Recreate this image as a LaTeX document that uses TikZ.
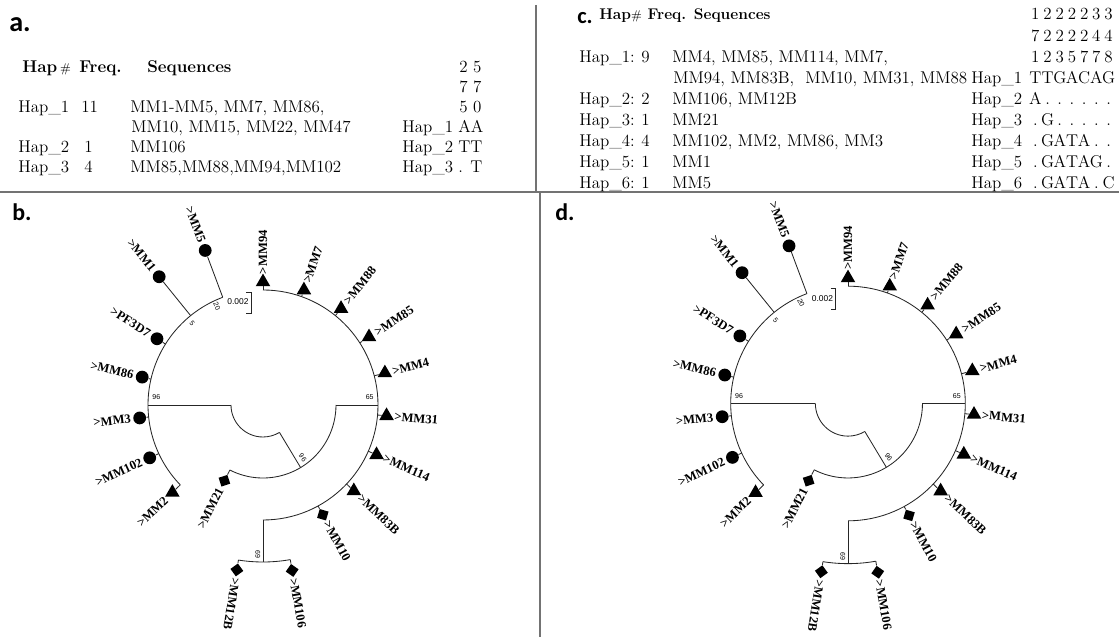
\documentclass[tikz,border=0pt]{standalone}
\usepackage{fontspec}
\usetikzlibrary{shapes.geometric}

\newfontfamily\taxfont{Liberation Serif}
\newfontfamily\supfont{Liberation Sans}
\newfontfamily\panelfont{Carlito}

% one fixed-width cell per site of the alignment
\newlength{\seqcw}
\setlength{\seqcw}{0.305cm}
\newcommand{\seqrow}[7]{\makebox[\seqcw]{#1}\makebox[\seqcw]{#2}\makebox[\seqcw]{#3}\makebox[\seqcw]{#4}\makebox[\seqcw]{#5}\makebox[\seqcw]{#6}\makebox[\seqcw]{#7}}
\newcommand{\thinhash}{{\normalfont\fontsize{9}{10}\selectfont\#}}

\begin{document}
\begin{tikzpicture}[
    x=0.025cm, y=0.025cm,
    font=\fontsize{12.1}{14}\selectfont,
    txt/.style={anchor=base west, inner sep=0pt},
    head/.style={txt, font=\fontsize{12.1}{14}\selectfont\bfseries},
    panel/.style={anchor=base west, inner sep=0pt, font=\panelfont\bfseries\fontsize{#1}{#1}\selectfont},
    divider/.style={line width=1.3pt, black!55},
    branch/.style={line width=0.6pt, black!85},
    leafdot/.style={circle, fill=black, inner sep=0pt, minimum size=0.32cm},
    leaftri/.style={regular polygon, regular polygon sides=3, fill=black, inner sep=0pt, minimum size=0.42cm},
    leafsq/.style={rectangle, fill=black, inner sep=0pt, minimum size=0.23cm, rotate=#1+45},
    taxon/.style={inner sep=0.5pt, font=\taxfont\bfseries\fontsize{9}{10}\selectfont},
    boot/.style={inner sep=0pt, font=\supfont\fontsize{5}{6}\selectfont}
]
    \useasboundingbox (0,0) rectangle (1119,637);

    % Panel dividers
    \draw[divider] (0,445) -- (1119,445);
    \draw[divider] (536,632) -- (536,445);
    \draw[divider] (540,445) -- (540,0);

    % Panel a: haplotype table
    \node[panel=20] (a-tag) at (9,605) {a.};
    \node[head] (a-hap) at (22,564) {Hap\,\thinhash};
    \node[head] (a-freq) at (79,564) {Freq.};
    \node[head] (a-seqs) at (147,564) {Sequences};
    \node[txt] (a-pos1) at (459,564) {2 5};
    \node[txt] (a-pos2) at (459,544) {7 7};
    \node[txt] (a-pos3) at (459,524) {5 0};
    \node[txt] (a-h1) at (18,524) {Hap\_1};
    \node[txt] (a-f1) at (81,524) {11};
    \node[txt] (a-s1) at (130,524) {MM1-MM5, MM7, MM86,};
    \node[txt] (a-s1b) at (131,504) {MM10, MM15, MM22, MM47};
    \node[txt] (a-r1) at (402,504) {Hap\_1};
    \node[txt] (a-q1) at (458,504) {AA};
    \node[txt] (a-h2) at (18,484) {Hap\_2};
    \node[txt] (a-f2) at (84,484) {1};
    \node[txt] (a-s2) at (130,484) {MM106};
    \node[txt] (a-r2) at (402,484) {Hap\_2};
    \node[txt] (a-q2) at (458,484) {TT};
    \node[txt] (a-h3) at (18,464) {Hap\_3};
    \node[txt] (a-f3) at (84,464) {4};
    \node[txt] (a-s3) at (130,464) {MM85,MM88,MM94,MM102};
    \node[txt] (a-r3) at (402,464) {Hap\_3};
    \node[txt] (a-q3) at (458,464) {. T};

    % Panel c: haplotype table
    \node[panel=16] (c-tag) at (577,613) {c.};
    \node[head, font=\fontsize{11}{13}\selectfont\bfseries] (c-head) at (599,617) {Hap\thinhash{} Freq. Sequences};
    \node[txt] (c-pos1) at (1029,617) {\seqrow 1222233};
    \node[txt] (c-pos2) at (1029,595.9) {\seqrow 7222244};
    \node[txt] (c-pos3) at (1029,574.8) {\seqrow 1235778};
    \node[txt] (c-h1) at (579,574.8) {Hap\_1:};
    \node[txt] (c-f1) at (641,574.8) {9};
    \node[txt] (c-s1) at (672,574.8) {MM4, MM85, MM114, MM7,};
    \node[txt] (c-s1b) at (673,553.7) {MM94, MM83B,\ \ MM10, MM31, MM88};
    \node[txt] (c-r1) at (971,553.7) {Hap\_1};
    \node[txt] (c-q1) at (1029,553.7) {\seqrow TTGACAG};
    \node[txt] (c-h2) at (579,532.6) {Hap\_2:};
    \node[txt] (c-f2) at (641,532.6) {2};
    \node[txt] (c-s2) at (672,532.6) {MM106, MM12B};
    \node[txt] (c-r2) at (971,532.6) {Hap\_2};
    \node[txt] (c-q2) at (1029,532.6) {\seqrow A......};
    \node[txt] (c-h3) at (579,511.5) {Hap\_3:};
    \node[txt] (c-f3) at (641,511.5) {1};
    \node[txt] (c-s3) at (672,511.5) {MM21};
    \node[txt] (c-r3) at (971,511.5) {Hap\_3};
    \node[txt] (c-q3) at (1029,511.5) {\seqrow .G.....};
    \node[txt] (c-h4) at (579,490.4) {Hap\_4:};
    \node[txt] (c-f4) at (641,490.4) {4};
    \node[txt] (c-s4) at (672,490.4) {MM102, MM2, MM86, MM3};
    \node[txt] (c-r4) at (971,490.4) {Hap\_4};
    \node[txt] (c-q4) at (1029,490.4) {\seqrow .GATA..};
    \node[txt] (c-h5) at (579,469.3) {Hap\_5:};
    \node[txt] (c-f5) at (641,469.3) {1};
    \node[txt] (c-s5) at (672,469.3) {MM1};
    \node[txt] (c-r5) at (971,469.3) {Hap\_5};
    \node[txt] (c-q5) at (1029,469.3) {\seqrow .GATAG.};
    \node[txt] (c-h6) at (579,448.2) {Hap\_6:};
    \node[txt] (c-f6) at (641,448.2) {1};
    \node[txt] (c-s6) at (672,448.2) {MM5};
    \node[txt] (c-r6) at (971,448.2) {Hap\_6};
    \node[txt] (c-q6) at (1029,448.2) {\seqrow .GATA.C};

    % Panels b and d: circular trees
    \node[panel=17] (b-tag) at (12,416) {b.};
    \node[panel=17] (d-tag) at (555,416) {d.};

    \foreach \p/\cx/\cy/\sc in {b/263/232/1, d/848/233.5/1.02}{
    \begin{scope}[shift={(\cx,\cy)}, scale=\sc]

        % Inner nodes coordinates
        \coordinate (\p-n96) at (180:115);
        \coordinate (\p-nin) at (301:73);
        \coordinate (\p-n65) at (0:115);
        \coordinate (\p-n69) at (270:157);

        % Branches
        \draw[branch] (180:32) arc[start angle=180, end angle=301, radius=32];
        \draw[branch] (180:32) -- (\p-n96);
        \draw[branch] (301:32) -- (\p-nin);
        \draw[branch] (243:73) arc[start angle=243, end angle=360, radius=73];
        \draw[branch] (0:73) -- (\p-n65);
        \draw[branch] (-90:115) arc[start angle=-90, end angle=90, radius=115];
        \draw[branch] (-90:115) -- (\p-n69);
        \draw[branch] (261:157) arc[start angle=261, end angle=280, radius=157];
        \draw[branch] (110.5:115) arc[start angle=110.5, end angle=224, radius=115];

        % Leaves, left half (labels read towards the tree)
        \foreach \nm/\ang/\a/\m/\shp in {MM5/110.5/115/165/leafdot, MM1/129/115/165/leafdot,
            PF3D7/148/115/125/leafdot, MM86/167/115/124/leafdot, MM3/186/115/124/leafdot,
            MM102/205/115/125/leafdot, MM2/224/115/126/leaftri, MM21/243/73/85/leafsq}{
            \node[\shp=\ang] (\p-\nm) at (\ang:\m) {};
            \draw[branch] (\ang:\a) -- (\p-\nm);
            \node[taxon, anchor=east, rotate=\ang-180] (\p-\nm-lab) at (\ang:{\m+8}) {>\nm};
        }

        % Leaves, right half (labels read outwards)
        \foreach \nm/\ang/\a/\m/\shp in {MM12B/261/157/167/leafsq, MM106/280/157/168/leafsq,
            MM10/298.6/115/125/leafsq, MM83B/316.6/115/125/leaftri, MM114/336.3/115/124/leaftri,
            MM31/355/115/124/leaftri, MM4/14.7/115/126/leaftri, MM85/32.7/115/126/leaftri,
            MM88/51/115/124/leaftri, MM7/70.4/115/122/leaftri, MM94/90/115/123/leaftri}{
            \node[\shp=\ang] (\p-\nm) at (\ang:\m) {};
            \draw[branch] (\ang:\a) -- (\p-\nm);
            \node[taxon, anchor=west, rotate=\ang] (\p-\nm-lab) at (\ang:{\m+7}) {>\nm};
        }

        % Bootstrap values
        \node[boot] (\p-b96) at (176:107) {96};
        \node[boot] (\p-b65) at (4:107) {65};
        \node[boot, rotate=-49] (\p-b5) at (131:108) {5};
        \node[boot, rotate=-65] (\p-b20) at (115:109) {20};
        \node[boot, rotate=-54] (\p-bin) at (307:66) {96};
        \node[boot, rotate=-90] (\p-b69) at (268:150) {69};

        % Scale bar
        \node[boot, font=\supfont\fontsize{6}{7}\selectfont] (\p-scale) at (-25,103) {0.002};
        \draw[branch] (-17,113) -- (-12,113) -- (-12,92) -- (-17,92);

    \end{scope}
    }

\end{tikzpicture}
\end{document}
